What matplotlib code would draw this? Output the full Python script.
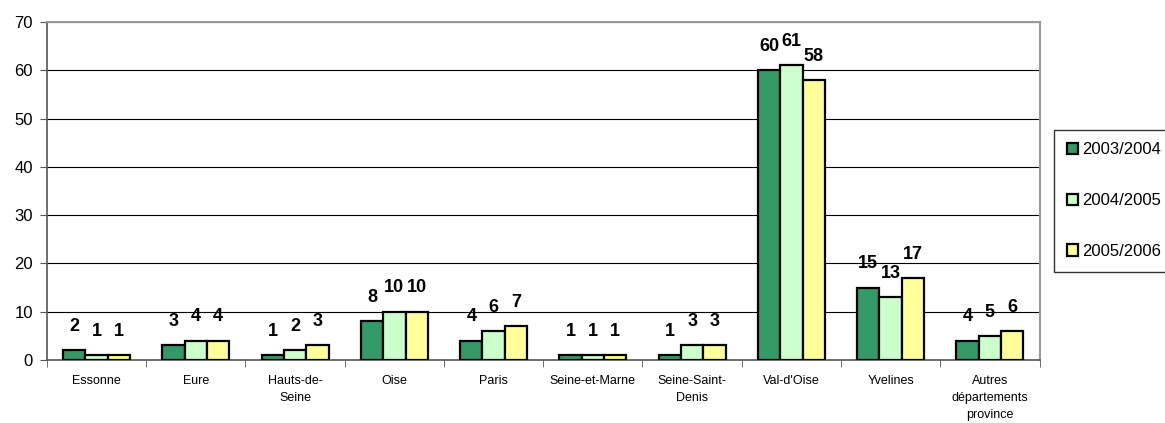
import matplotlib
matplotlib.use("Agg")
import matplotlib.pyplot as plt
import numpy as np
from matplotlib.patches import Patch

plt.rcParams['font.family'] = ['Liberation Sans', 'DejaVu Sans']

categories = ["Essonne", "Eure", "Hauts-de-\nSeine", "Oise", "Paris", "Seine-et-Marne",
              "Seine-Saint-\nDenis", "Val-d'Oise", "Yvelines", "Autres\ndépartements\nprovince"]
series_names = ["2003/2004", "2004/2005", "2005/2006"]
v2003 = [2, 3, 1, 8, 4, 1, 1, 60, 15, 4]
v2004 = [1, 4, 2, 10, 6, 1, 3, 61, 13, 5]
v2005 = [1, 4, 3, 10, 7, 1, 3, 58, 17, 6]
colors = ["#339966", "#CCFFCC", "#FFFF99"]

fig = plt.figure(figsize=(11.65, 4.23), dpi=100)
ax = fig.add_axes([0.0403, 0.149, 0.852, 0.799])

x = np.arange(len(categories))
w = 0.225
for i, (vals, c) in enumerate(zip([v2003, v2004, v2005], colors)):
    pos = x + (i - 1) * w
    ax.bar(pos, vals, width=w, color=c, edgecolor="black", linewidth=1.6, zorder=3)
    for xi, v in zip(pos, vals):
        ax.annotate(str(v), (xi, v), xytext=(0, 11), textcoords="offset points",
                    ha="center", va="bottom", fontsize=13, fontweight="bold", zorder=4)

ax.set_xlim(-0.5, len(categories) - 0.5)
ax.set_ylim(0, 70)
ax.set_yticks(range(0, 71, 10))
ax.yaxis.grid(True, color="black", linewidth=0.8, zorder=0)
ax.set_axisbelow(True)
ax.set_xticks(x)
ax.set_xticklabels(categories, fontsize=9, linespacing=1.55)
ax.set_xticks(np.arange(-0.5, len(categories)), minor=True)
ax.tick_params(axis="x", which="major", length=0, pad=11)
ax.tick_params(axis="x", which="minor", length=5, color="#555555")
ax.tick_params(axis="y", labelsize=12, length=5, pad=5, color="#555555")
for s in ["top", "right"]:
    ax.spines[s].set_color("#999999")
    ax.spines[s].set_linewidth(1.5)
for s in ["left", "bottom"]:
    ax.spines[s].set_color("#555555")
    ax.spines[s].set_linewidth(1.2)

handles = [Patch(facecolor=c, edgecolor="black", linewidth=1.6) for c in colors]
leg = fig.legend(handles, series_names, loc="upper left", bbox_to_anchor=(0.905, 0.693),
                 fontsize=12, frameon=True, fancybox=False, edgecolor="black",
                 handlelength=0.7, handleheight=0.7, handletextpad=0.2,
                 labelspacing=2.15, borderpad=0.75, borderaxespad=0)
leg.get_frame().set_linewidth(1.0)

fig.savefig("out.png", dpi=100)
